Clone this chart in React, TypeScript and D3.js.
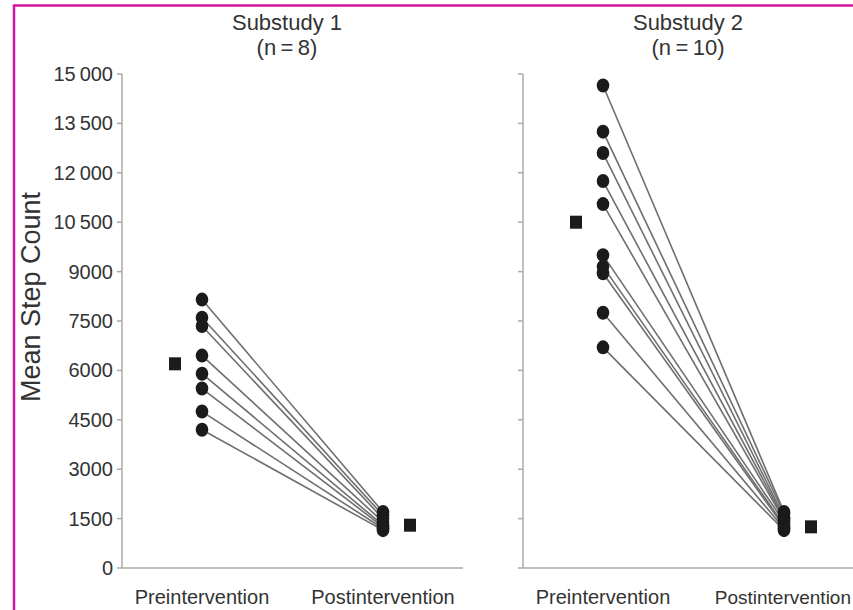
import React from "react";
import * as d3 from "d3";

// Mean daily step count per participant, before and after the intervention
const phases = ["Preintervention", "Postintervention"];
const panelTitles = ["Substudy 1", "Substudy 2"];
const panelSubtitles = ["(n\u2009=\u20098)", "(n\u2009=\u200910)"];

const substudy1Pre = [8150, 7600, 7350, 6450, 5900, 5450, 4750, 4200];
const substudy1Post = [1700, 1600, 1500, 1400, 1300, 1250, 1200, 1150];
const substudy1Means = [6200, 1300];

const substudy2Pre = [14650, 13250, 12600, 11750, 11050, 9500, 9150, 8950, 7750, 6700];
const substudy2Post = [1700, 1650, 1550, 1500, 1450, 1400, 1300, 1250, 1200, 1150];
const substudy2Means = [10500, 1250];

const yTicks = [0, 1500, 3000, 4500, 6000, 7500, 9000, 10500, 12000, 13500, 15000];

const W = 853;
const H = 610;
const textColor = "#333";
const axisColor = "#aaa";
const font = "'Liberation Sans', Arial, Helvetica, sans-serif";

const y = d3.scaleLinear().domain([0, 15000]).range([568, 74]);
const fmt = (v: number) => {
  const s = String(v);
  return s.length > 4 ? s.slice(0, s.length - 3) + "\u2009" + s.slice(-3) : s;
};

type Panel = {
  x0: number;
  x1: number;
  pre: number[];
  post: number[];
  means: number[];
  title: string;
  sub: string;
  labels: boolean;
};

const panels: Panel[] = [
  { x0: 122, x1: 463, pre: substudy1Pre, post: substudy1Post, means: substudy1Means, title: panelTitles[0], sub: panelSubtitles[0], labels: true },
  { x0: 523, x1: 860, pre: substudy2Pre, post: substudy2Post, means: substudy2Means, title: panelTitles[1], sub: panelSubtitles[1], labels: false },
];

function PanelView({ p }: { p: Panel }) {
  const x = d3.scalePoint<string>().domain(phases).range([p.x0 + 80, p.x0 + 261]);
  const meanOffset = 27;
  const cx = (p.x0 + p.x0 + 330) / 2;
  return (
    <g>
      <text x={cx} y={30} textAnchor="middle" fontSize={22} fill={textColor} fontFamily={font}>
        {p.title}
      </text>
      <text x={cx} y={55} textAnchor="middle" fontSize={22} fill={textColor} fontFamily={font}>
        {p.sub}
      </text>
      {/* axes */}
      <line x1={p.x0} x2={p.x0} y1={y(15000)} y2={y(0)} stroke={axisColor} strokeWidth={1.5} />
      <line x1={p.x0} x2={p.x1} y1={y(0)} y2={y(0)} stroke={axisColor} strokeWidth={1.5} />
      {yTicks.map((t) => (
        <g key={t}>
          <line x1={p.x0 - 5} x2={p.x0} y1={y(t)} y2={y(t)} stroke={axisColor} strokeWidth={1.5} />
          {p.labels && (
            <text x={p.x0 - 9} y={y(t) + 7} textAnchor="end" fontSize={20} fill={textColor} fontFamily={font}>
              {fmt(t)}
            </text>
          )}
        </g>
      ))}
      {phases.map((ph) => {
        const px = x(ph) as number;
        // keep the right-most label inside the frame
        const tight = px + 72 > W;
        return (
          <text
            key={ph}
            x={tight ? W - 2 : px}
            y={604}
            textAnchor={tight ? "end" : "middle"}
            fontSize={tight ? 19 : 20}
            fill={textColor}
            fontFamily={font}
          >
            {ph}
          </text>
        );
      })}
      {/* participant trajectories */}
      {p.pre.map((v, i) => (
        <line
          key={"l" + i}
          x1={x(phases[0])}
          y1={y(v)}
          x2={x(phases[1])}
          y2={y(p.post[i])}
          stroke="#6e6e6e"
          strokeWidth={1.6}
        />
      ))}
      {p.pre.map((v, i) => (
        <ellipse key={"a" + i} cx={x(phases[0])} cy={y(v)} rx={6.3} ry={7} fill="#1b1b1b" />
      ))}
      {p.post.map((v, i) => (
        <ellipse key={"b" + i} cx={x(phases[1])} cy={y(v)} rx={6.3} ry={7} fill="#1b1b1b" />
      ))}
      {/* group means */}
      <rect x={(x(phases[0]) as number) - meanOffset - 6} y={y(p.means[0]) - 6.5} width={12} height={13} fill="#1b1b1b" />
      <rect x={(x(phases[1]) as number) + meanOffset - 6} y={y(p.means[1]) - 6.5} width={12} height={13} fill="#1b1b1b" />
    </g>
  );
}

export default function App() {
  return (
    <svg
      width={W}
      height={H}
      viewBox={`0 0 ${W} ${H}`}
      style={{ position: "absolute", left: 0, top: 0, background: "#fff" }}
    >
      <rect x={0} y={0} width={W} height={H} fill="#fff" />
      <line x1={14} x2={W} y1={5.5} y2={5.5} stroke="#d4149c" strokeWidth={2.5} />
      <line x1={14} x2={14} y1={4.5} y2={H} stroke="#d4149c" strokeWidth={2.5} />
      <text
        transform={`translate(40, 297) rotate(-90)`}
        textAnchor="middle"
        fontSize={27}
        fill={textColor}
        fontFamily={font}
      >
        Mean Step Count
      </text>
      {panels.map((p, i) => (
        <PanelView key={i} p={p} />
      ))}
    </svg>
  );
}
